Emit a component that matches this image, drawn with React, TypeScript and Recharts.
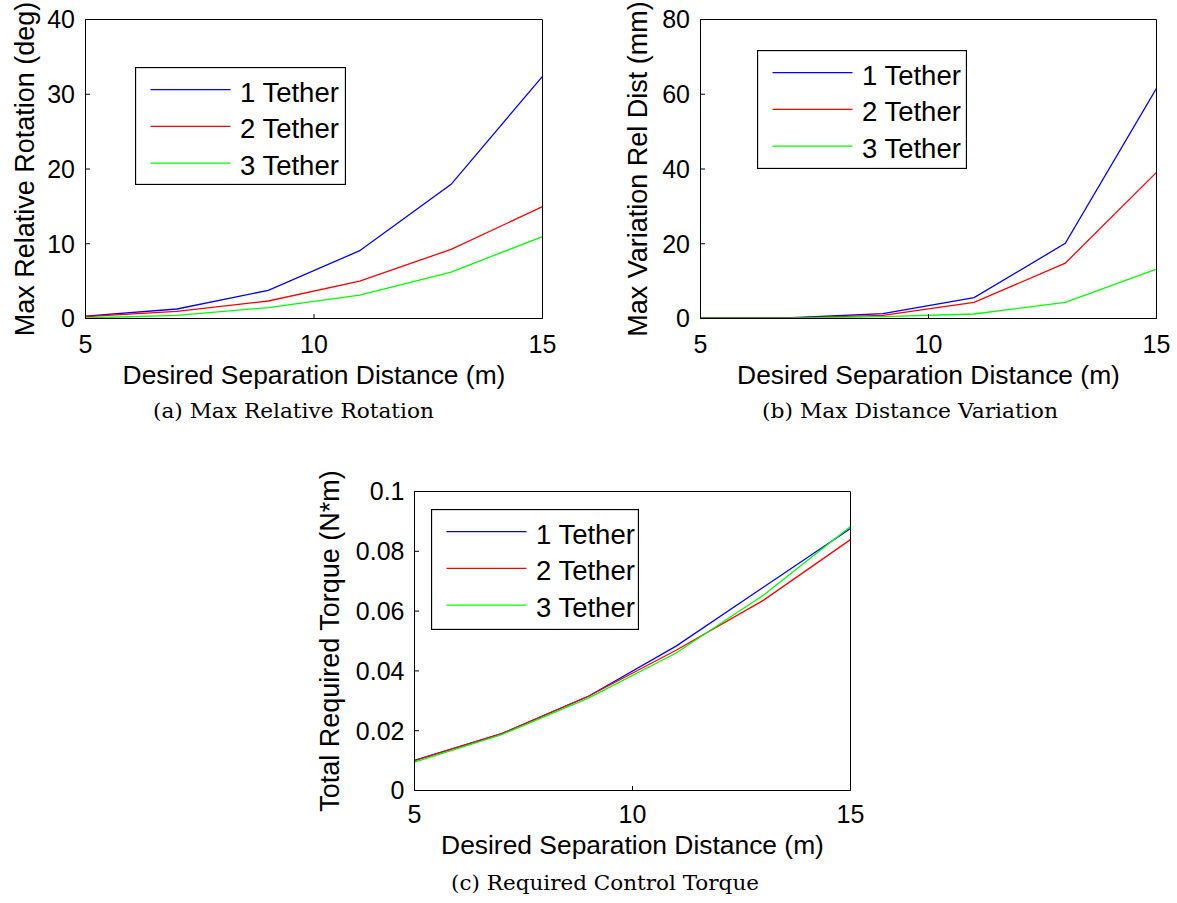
import React from 'react';
import { LineChart, Line, XAxis, YAxis, Legend } from 'recharts';

// ---- data ----
const separation = [5, 7, 9, 11, 13, 15];

const rotation1 = [0.33, 1.27, 3.77, 9.07, 17.95, 32.4];
const rotation2 = [0.25, 0.96, 2.34, 5.0, 9.25, 14.96];
const rotation3 = [0.07, 0.42, 1.45, 3.14, 6.22, 10.95];

const distance1 = [0.2, 0.2, 1.3, 5.6, 20.1, 61.6];
const distance2 = [0.15, 0.15, 0.85, 4.3, 14.8, 39.1];
const distance3 = [0.1, 0.1, 0.5, 1.2, 4.3, 13.2];

const torque1 = [0.0101, 0.019, 0.0316, 0.0483, 0.068, 0.0876];
const torque2 = [0.01, 0.019, 0.0316, 0.0469, 0.0636, 0.0839];
const torque3 = [0.0095, 0.0187, 0.031, 0.046, 0.0653, 0.0883];

const xTicks = [5, 10, 15];
const rotationTicks = [0, 10, 20, 30, 40];
const distanceTicks = [0, 20, 40, 60, 80];
const torqueTicks = [0, 0.02, 0.04, 0.06, 0.08, 0.1];

const seriesNames = ['1 Tether', '2 Tether', '3 Tether'];
const seriesColors = ['#0000ff', '#ff0000', '#00ff00'];
const seriesKeys = ['s1', 's2', 's3'];

const xTitle = 'Desired Separation Distance (m)';

const SANS = '"Liberation Sans", Arial, Helvetica, sans-serif';
const SERIF = '"DejaVu Serif", "Liberation Serif", serif';
const TICK = 4.5;
const TICK_FONT = 25;
const Y_TITLE_FONT = 27;
const X_TITLE_FONT = 26.4;
const LEGEND_FONT = 27.5;

function buildRows(a: number[], b: number[], c: number[]) {
  return separation.map((x, i) => ({ x, s1: a[i], s2: b[i], s3: c[i] }));
}

const rotationRows = buildRows(rotation1, rotation2, rotation3);
const distanceRows = buildRows(distance1, distance2, distance3);
const torqueRows = buildRows(torque1, torque2, torque3);

type PanelProps = {
  pos: [number, number];
  size: [number, number];
  plot: { left: number; right: number; top: number; bottom: number };
  rows: any[];
  yTicks: number[];
  yTitle: string;
  yTitleDist: number;
  yTickGap: number;
  xTickGap: number;
  xTitleBaseline: number;
  legendBox: { x: number; y: number; w: number; h: number };
};

function makeLegend(w: number, h: number) {
  return (props: any) => {
    const payload = (props.payload || []) as any[];
    const rowsY = [22.7, 59.4, 96.1];
    return (
      <svg width={w} height={h} style={{ display: 'block' }}>
        <rect x={0.5} y={0.5} width={w - 1} height={h - 1} fill="#fff" stroke="#000" strokeWidth={1.3} />
        {payload.map((p: any, i: number) => (
          <g key={i}>
            <line x1={15.5} x2={95.5} y1={rowsY[i]} y2={rowsY[i]} stroke={p.color} strokeWidth={1.3} />
            <text x={105} y={rowsY[i] + 12} fontFamily={SANS} fontSize={LEGEND_FONT} fill="#000">
              {p.value}
            </text>
          </g>
        ))}
      </svg>
    );
  };
}

function Panel(p: PanelProps) {
  const [W, H] = p.size;
  const XH = 40;
  const margin = {
    top: p.plot.top - 1,
    right: W - p.plot.right - 1,
    bottom: H - p.plot.bottom - XH,
    left: 0.5,
  };
  const yAxisWidth = p.plot.left - 0.5;
  const yDomain = [p.yTicks[0], p.yTicks[p.yTicks.length - 1]];
  const cy = (p.plot.top + p.plot.bottom) / 2;
  const cx = p.plot.left - p.yTitleDist;
  const tickStyle = { fill: '#000', fontSize: TICK_FONT, fontFamily: SANS };

  const yTitleContent = () => (
    <text
      x={cx}
      y={cy}
      dy="0.355em"
      transform={`rotate(-90 ${cx} ${cy})`}
      textAnchor="middle"
      fontFamily={SANS}
      fontSize={Y_TITLE_FONT}
      fill="#000"
    >
      {p.yTitle}
    </text>
  );
  const xTitleContent = () => (
    <text
      x={(p.plot.left + p.plot.right) / 2}
      y={p.plot.bottom + p.xTitleBaseline}
      textAnchor="middle"
      fontFamily={SANS}
      fontSize={X_TITLE_FONT}
      fill="#000"
    >
      {xTitle}
    </text>
  );

  return (
    <div style={{ position: 'absolute', left: p.pos[0], top: p.pos[1] }}>
      <LineChart width={W} height={H} data={p.rows} margin={margin}>
        <XAxis
          xAxisId="b"
          dataKey="x"
          type="number"
          domain={[5, 15]}
          ticks={xTicks}
          interval={0}
          orientation="bottom"
          height={XH}
          stroke="#000"
          tickSize={-TICK}
          tickMargin={TICK + p.xTickGap}
          tick={tickStyle}
          label={{ content: xTitleContent }}
          allowDataOverflow
        />
        <XAxis
          xAxisId="t"
          dataKey="x"
          type="number"
          domain={[5, 15]}
          ticks={xTicks}
          interval={0}
          orientation="top"
          height={1}
          stroke="#000"
          tickSize={-TICK}
          tick={false}
          allowDataOverflow
        />
        <YAxis
          yAxisId="l"
          type="number"
          domain={yDomain}
          ticks={p.yTicks}
          interval={0}
          orientation="left"
          width={yAxisWidth}
          stroke="#000"
          tickSize={-TICK}
          tickMargin={TICK + p.yTickGap}
          tick={tickStyle}
          label={{ content: yTitleContent }}
          allowDataOverflow
        />
        <YAxis
          yAxisId="r"
          type="number"
          domain={yDomain}
          ticks={p.yTicks}
          interval={0}
          orientation="right"
          width={1}
          stroke="#000"
          tickSize={-TICK}
          tick={false}
          allowDataOverflow
        />
        {seriesKeys.map((k, i) => (
          <Line
            key={k}
            xAxisId="b"
            yAxisId="l"
            type="linear"
            dataKey={k}
            name={seriesNames[i]}
            stroke={seriesColors[i]}
            strokeWidth={1.3}
            dot={false}
            activeDot={false}
            legendType="line"
            isAnimationActive={false}
          />
        ))}
        <Legend
          layout="vertical"
          align="center"
          verticalAlign="middle"
          content={makeLegend(p.legendBox.w, p.legendBox.h)}
          wrapperStyle={{
            left: p.legendBox.x,
            top: p.legendBox.y,
            width: p.legendBox.w,
            height: p.legendBox.h,
          }}
        />
      </LineChart>
    </div>
  );
}

function Caption({ x, y, w, text }: { x: number; y: number; w: number; text: string }) {
  return (
    <svg
      width={w + 20}
      height={32}
      style={{ position: 'absolute', left: x - 10, top: y - 24, overflow: 'visible' }}
    >
      <text
        x={10}
        y={24}
        fontFamily={SERIF}
        fontSize={21}
        fill="#000"
        textLength={w}
        lengthAdjust="spacingAndGlyphs"
      >
        {text}
      </text>
    </svg>
  );
}

export default function App() {
  return (
    <div
      style={{
        position: 'absolute',
        left: 0,
        top: 0,
        width: 1177,
        height: 903,
        background: '#fff',
        overflow: 'hidden',
      }}
    >
      <Panel
        pos={[0, 0]}
        size={[570, 400]}
        plot={{ left: 85.5, right: 542.5, top: 19.5, bottom: 318.5 }}
        rows={rotationRows}
        yTicks={rotationTicks}
        yTitle="Max Relative Rotation (deg)"
        yTitleDist={61.5}
        yTickGap={10.5}
        xTickGap={16.5}
        xTitleBaseline={65}
        legendBox={{ x: 135.3, y: 66.7, w: 211, h: 118 }}
      />
      <Panel
        pos={[600, 0]}
        size={[577, 400]}
        plot={{ left: 100.5, right: 556.5, top: 19.5, bottom: 318.5 }}
        rows={distanceRows}
        yTicks={distanceTicks}
        yTitle="Max Variation Rel Dist (mm)"
        yTitleDist={63}
        yTickGap={10.5}
        xTickGap={16.5}
        xTitleBaseline={65}
        legendBox={{ x: 157.3, y: 50, w: 210, h: 119 }}
      />
      <Panel
        pos={[300, 470]}
        size={[580, 400]}
        plot={{ left: 114.5, right: 550.5, top: 21.5, bottom: 320.5 }}
        rows={torqueRows}
        yTicks={torqueTicks}
        yTitle="Total Required Torque (N*m)"
        yTitleDist={85.5}
        yTickGap={10}
        xTickGap={15}
        xTitleBaseline={63.5}
        legendBox={{ x: 131, y: 39.3, w: 208, h: 121 }}
      />
      <Caption x={152.7} y={417.5} w={281} text="(a) Max Relative Rotation" />
      <Caption x={762} y={417.5} w={296} text="(b) Max Distance Variation" />
      <Caption x={450.6} y={890} w={308} text="(c) Required Control Torque" />
    </div>
  );
}
